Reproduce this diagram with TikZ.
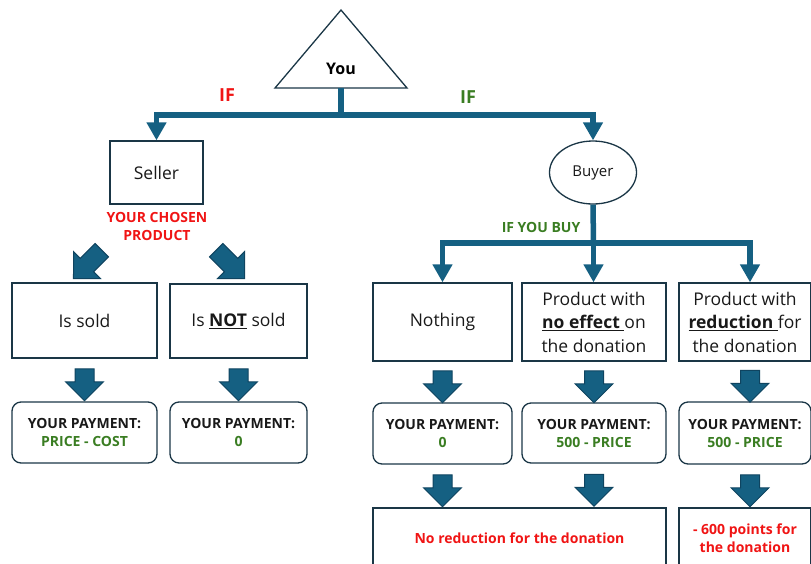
\documentclass[tikz,border=0pt]{standalone}
\usepackage{fontspec}
\setmainfont{Open Sans}
\usetikzlibrary{arrows.meta,calc,shapes.geometric,shapes.arrows}

\definecolor{arrowblue}{HTML}{156082}
\definecolor{arrowline}{HTML}{0F4460}
\definecolor{boxline}{HTML}{1A3646}
\definecolor{ifred}{HTML}{F01414}
\definecolor{paygreen}{HTML}{3A7D22}

\tikzset{
  box/.style={draw=boxline, line width=1.3pt, align=center, inner sep=0pt, text=black!90,
    font=\fontsize{17.5}{23.5}\selectfont},
  paybox/.style={box, rounded corners=9pt, font=\bfseries\fontsize{14}{18}\selectfont},
  blockarrow/.style={single arrow, draw=arrowline, fill=arrowblue, line width=1pt,
    inner xsep=0pt, inner ysep=9pt, minimum height=32pt, single arrow head extend=9.5pt},
  trunk/.style={arrowblue, line width=5.5pt},
  tree/.style={trunk, -{Triangle[width=19pt,length=18pt]}},
  iflabel/.style={font=\bfseries\fontsize{18}{20}\selectfont},
  smalllabel/.style={font=\bfseries\fontsize{14}{18}\selectfont, align=center}
}

\begin{document}
\begin{tikzpicture}[x=1pt,y=-1pt]
  \useasboundingbox (0,0) rectangle (811,563);
  \clip (0,0) rectangle (811,563);

  % top: you
  \coordinate (youleft) at (275,88);
  \coordinate (youtop) at (341,10);
  \coordinate (youright) at (407,88);
  \coordinate (youbase) at (341,88);
  \draw[boxline, line width=1.3pt, line join=miter] (youleft) -- (youtop) -- (youright) -- cycle;
  \node[font=\bfseries\fontsize{16}{18}\selectfont] (you) at (341,69) {You};

  % roles
  \node[box, minimum width=93pt, minimum height=63pt] (seller) at (156.5,172.5) {Seller};
  \node[box, ellipse, minimum width=87pt, minimum height=63pt, font=\fontsize{15}{18}\selectfont] (buyer) at (593,172.5) {Buyer};

  \coordinate (split) at (341,115);
  \draw[trunk] (youbase) -- (split);
  \draw[tree] (split) -| (seller.north);
  \draw[tree] (split) -| (buyer.north);
  \node[iflabel, text=ifred] (ifseller) at (227,95) {IF};
  \node[iflabel, text=paygreen] (ifbuyer) at (468,97) {IF};

  % seller side
  \node[smalllabel, text=ifred] (chosen) at (157,226) {YOUR CHOSEN\\PRODUCT};
  \node[box, minimum width=145pt, minimum height=75pt] (sold) at (84.5,320.5) {Is sold};
  \node[box, minimum width=137pt, minimum height=74pt] (notsold) at (238.5,321) {Is \underline{\textbf{NOT}} sold};
  \node[blockarrow, minimum height=40pt, rotate=-135] (tosold) at (91,261) {};
  \node[blockarrow, minimum height=40pt, rotate=-45] (tonotsold) at (227,261) {};

  \node[paybox, minimum width=145pt, minimum height=61pt] (paysold) at (84.5,432.5) {YOUR PAYMENT:\\\textcolor{paygreen}{PRICE - COST}};
  \node[paybox, minimum width=137pt, minimum height=61pt] (paynot) at (238.5,432.5) {YOUR PAYMENT:\\\textcolor{paygreen}{0}};
  \node[blockarrow, rotate=-90] at ($(sold.south)!.5!(paysold.north)$) {};
  \node[blockarrow, rotate=-90] at ($(notsold.south)!.5!(paynot.north)$) {};

  % buyer side
  \node[box, minimum width=139pt, minimum height=78pt] (nothing) at (442.5,322) {Nothing};
  \node[box, minimum width=144pt, minimum height=78pt] (noeffect) at (594,322) {Product with\\\underline{\textbf{no effect\ }}on\\the donation};
  \node[box, minimum width=132pt, minimum height=78pt] (reduction) at (745,322) {Product with\\\underline{\textbf{reduction\ }}for\\the donation};

  \coordinate (split2) at (593.5,243);
  \draw[trunk] (buyer.south) -- (split2);
  \draw[tree] (split2) -| (nothing.north);
  \draw[tree] (split2) -- (split2 |- noeffect.north);
  \draw[tree] (split2) -| ([xshift=5pt]reduction.north);
  \node[smalllabel, text=paygreen] (ifbuy) at (541,227) {IF YOU BUY};

  \node[paybox, minimum width=139pt, minimum height=61pt] (paynothing) at (442.5,433.5) {YOUR PAYMENT:\\\textcolor{paygreen}{0}};
  \node[paybox, minimum width=144pt, minimum height=60pt] (paynoeffect) at (594,433) {YOUR PAYMENT:\\\textcolor{paygreen}{500 - PRICE}};
  \node[paybox, minimum width=132pt, minimum height=62pt] (payreduction) at (745,433) {YOUR PAYMENT:\\\textcolor{paygreen}{500 - PRICE}};
  \node[blockarrow, rotate=-90] at ($(nothing.south)!.5!(paynothing.north)$) {};
  \node[blockarrow, rotate=-90] at ($(noeffect.south)!.5!(paynoeffect.north)$) {};
  \node[blockarrow, rotate=-90] at ($(reduction.south)!.5!(payreduction.north)+(5,0)$) {};

  % donation
  \node[paybox, rounded corners=0pt, minimum width=293pt, minimum height=60pt, text=ifred] (noreduce) at (519.5,538) {No reduction for the donation};
  \node[paybox, rounded corners=0pt, minimum width=132pt, minimum height=60pt, text=ifred] (minus) at (745,538) {- 600 points for\\the donation};
  \node[blockarrow, rotate=-90] at ($(paynothing.south)!.5!(paynothing.south |- noreduce.north)$) {};
  \node[blockarrow, rotate=-90] at ($(paynoeffect.south)!.5!(paynoeffect.south |- noreduce.north)$) {};
  \node[blockarrow, rotate=-90] at ($(payreduction.south)!.5!(minus.north)+(5,0)$) {};
\end{tikzpicture}
\end{document}
